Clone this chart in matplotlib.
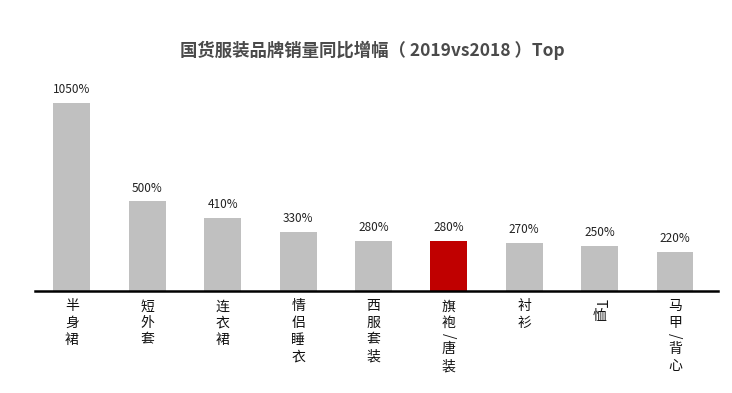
import matplotlib
matplotlib.use('Agg')
import matplotlib.pyplot as plt

plt.rcParams['font.family'] = ['Noto Sans CJK SC', 'DejaVu Sans']

# 数据
categories = ['半身裙', '短外套', '连衣裙', '情侣睡衣', '西服套装', '旗袍/唐装', '衬衫', 'T恤', '马甲/背心']
growth = [1050, 500, 410, 330, 280, 280, 270, 250, 220]
highlight = '旗袍/唐装'

bar_colors = ['#c00000' if c == highlight else '#c0c0c0' for c in categories]

fig = plt.figure(figsize=(7.32, 3.93), dpi=100)
ax = fig.add_axes([35 / 732, 1 - 291 / 393, (718 - 35) / 732, (291 - 60) / 393])

x = list(range(len(categories)))
ax.bar(x, growth, width=0.49, color=bar_colors)

ax.set_xlim(-0.49, 8.57)
ax.set_ylim(0, 1050 * (291 - 60) / 188)

for xi, v in zip(x, growth):
    ax.annotate(f'{v}%', (xi, v), xytext=(0, 5), textcoords='offset points',
                ha='center', va='bottom', fontsize=8.5, color='#222222')

# 竖排类别标签
for xi, name in zip(x, categories):
    off = -6
    for ch in name:
        rot = 270 if ch.isascii() else 0
        ax.annotate(ch, (xi, 0), xytext=(0, off), textcoords='offset points',
                    ha='center', va='top', fontsize=10, rotation=rot,
                    color='#111111')
        off -= 12 if not ch.isascii() else 7

for s in ['top', 'right', 'left']:
    ax.spines[s].set_visible(False)
ax.spines['bottom'].set_linewidth(1.8)
ax.set_xticks([])
ax.set_yticks([])

fig.text(372 / 732, 1 - 50 / 393, '国货服装品牌销量同比增幅（ 2019vs2018 ）Top',
         ha='center', va='center', fontsize=12.5, fontweight='bold', color='#4a4a4a')

fig.savefig('out.png', dpi=100)
